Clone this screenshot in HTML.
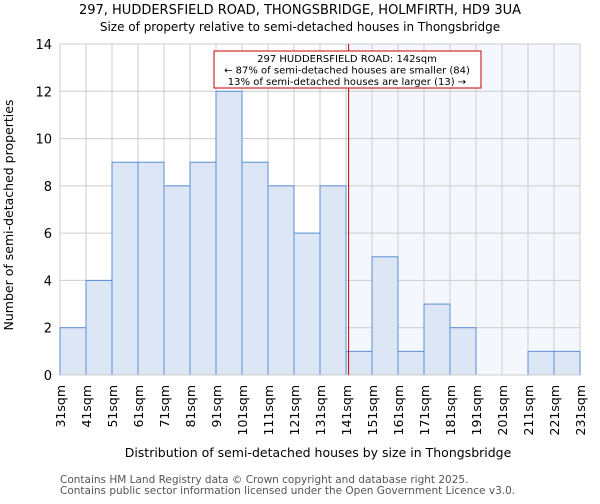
<!DOCTYPE html>
<html><head><meta charset="utf-8"><style>
body{margin:0;background:#fff;font-family:"DejaVu Sans","Liberation Sans",sans-serif}
svg text{font-family:"DejaVu Sans","Liberation Sans",sans-serif}
</style></head><body>
<svg id="chart" width="600" height="500">
<text x="300" y="14" text-anchor="middle" font-size="13">297, HUDDERSFIELD ROAD, THONGSBRIDGE, HOLMFIRTH, HD9 3UA</text>
<text x="300" y="31" text-anchor="middle" font-size="12">Size of property relative to semi-detached houses in Thongsbridge</text>
<g id="plot"></g>
<text x="318" y="457" text-anchor="middle" font-size="12.5">Distribution of semi-detached houses by size in Thongsbridge</text>
<text transform="translate(13,215) rotate(-90)" text-anchor="middle" font-size="12.5">Number of semi-detached properties</text>
<text x="60" y="483" font-size="10.5" fill="#555">Contains HM Land Registry data © Crown copyright and database right 2025.</text>
<text x="60" y="494" font-size="10.5" fill="#555">Contains public sector information licensed under the Open Government Licence v3.0.</text>
</svg>
<script>
const binStarts=[31,41,51,61,71,81,91,101,111,121,131,141,151,161,171,181,191,201,211,221];
const counts=[2,4,9,9,8,9,12,9,8,6,8,1,5,1,3,2,0,0,1,1];
const tickLabels=["31sqm","41sqm","51sqm","61sqm","71sqm","81sqm","91sqm","101sqm","111sqm","121sqm","131sqm","141sqm","151sqm","161sqm","171sqm","181sqm","191sqm","201sqm","211sqm","221sqm","231sqm"];
const yTicks=[0,2,4,6,8,10,12,14];
const propertySize=142;
const annotation=["297 HUDDERSFIELD ROAD: 142sqm","← 87% of semi-detached houses are smaller (84)","13% of semi-detached houses are larger (13) →"];
const NS="http://www.w3.org/2000/svg";
const L=60,R=580,T=44,B=375,xmin=31,xmax=231,ymax=14;
const xs=v=>L+(v-xmin)/(xmax-xmin)*(R-L);
const ys=v=>B-v/ymax*(B-T);
const g=document.getElementById('plot');
function mk(t,a){const e=document.createElementNS(NS,t);for(const k in a)e.setAttribute(k,a[k]);g.appendChild(e);return e;}
let e=mk('rect',{x:xs(propertySize),y:T,width:R-xs(propertySize),height:B-T,fill:'#f4f7fd'});


tickLabels.forEach((t,i)=>{const v=xmin+i*10;const l=mk('line',{x1:xs(v),x2:xs(v),y1:T,y2:B,stroke:'#ccc','stroke-width':1});

});
yTicks.forEach(v=>{const l=mk('line',{x1:L,x2:R,y1:ys(v),y2:ys(v),stroke:'#ccc','stroke-width':1});


const t=mk('text',{x:L-8,y:ys(v)+5,'text-anchor':'end','font-size':13});t.textContent=v;

});
counts.forEach((c,i)=>{if(c<=0)return;const x0=xs(binStarts[i]),x1=xs(binStarts[i]+10);
const r=mk('rect',{x:x0,y:ys(c),width:x1-x0,height:B-ys(c),fill:'#dce6f4',stroke:'#5b8fd6','stroke-width':1});

});
tickLabels.forEach((t,i)=>{const v=xmin+i*10;const tx=mk('text',{transform:`translate(${xs(v)+5},385) rotate(-90)`,'text-anchor':'end','font-size':12.5});tx.textContent=t;

});
const ax=mk('line',{x1:L,x2:R,y1:B,y2:B,stroke:'#ccc','stroke-width':1});


const rl=mk('line',{x1:xs(propertySize),x2:xs(propertySize),y1:T,y2:B,stroke:'#c00','stroke-width':1});


const bx=mk('rect',{x:214,y:51,width:267,height:37,fill:'#fff',stroke:'#c00','stroke-width':1});


annotation.forEach((s,i)=>{const t=mk('text',{x:347,y:62+i*11.5,'text-anchor':'middle','font-size':10});t.textContent=s;

});
</script>
</body></html>
